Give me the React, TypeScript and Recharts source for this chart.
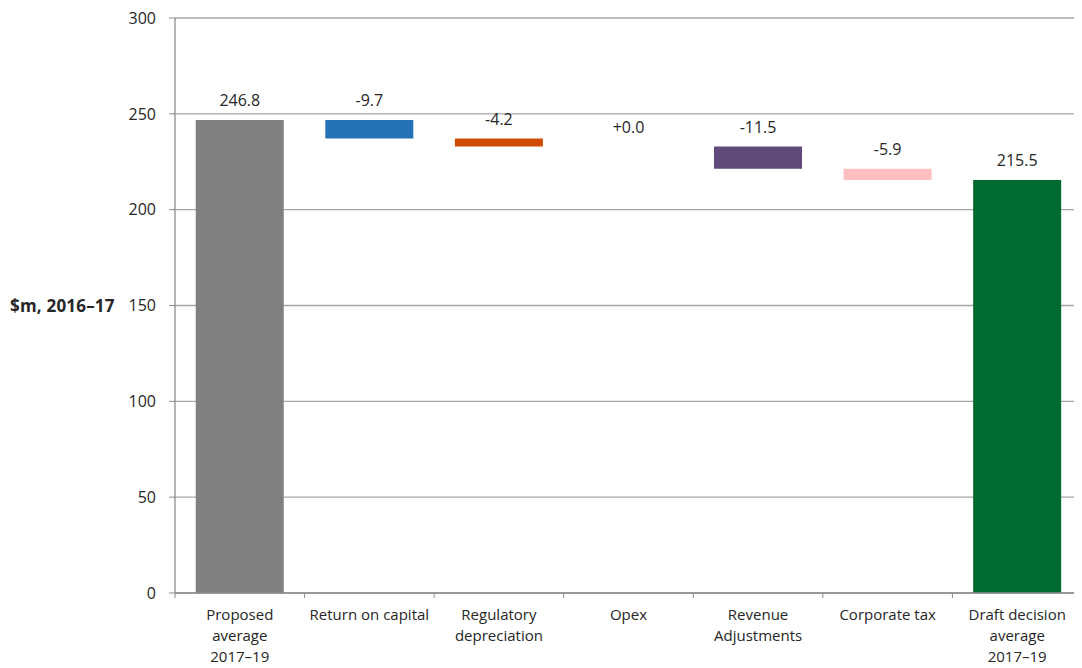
import { ComposedChart, Bar, Line, XAxis, YAxis, CartesianGrid, Cell, LabelList } from 'recharts';

const categories = [
  'Proposed\naverage\n2017–19',
  'Return on capital',
  'Regulatory\ndepreciation',
  'Opex',
  'Revenue\nAdjustments',
  'Corporate tax',
  'Draft decision\naverage\n2017–19',
];
const changes = [246.8, -9.7, -4.2, 0.0, -11.5, -5.9, 215.5];
const isTotal = [true, false, false, false, false, false, true];
const colors = ['#7f7f7f', '#2471b5', '#cf4a03', '#7f7f7f', '#5f4a7b', '#ffbfbf', '#006b2f'];
const yTicks = [0, 50, 100, 150, 200, 250, 300];

const W = 1074;
const H = 660;
const Y_AXIS_W = 167;
const BAND = (W - Y_AXIS_W) / categories.length;
const FONT = '"Open Sans", sans-serif';

function buildRows() {
  let running = 0;
  return categories.map((name, i) => {
    const v = changes[i];
    let base = 0;
    let height = v;
    let label = v.toFixed(1);
    if (isTotal[i]) {
      running = v;
    } else {
      const next = running + v;
      base = Math.min(running, next);
      height = Math.abs(v);
      running = next;
      label = (v < 0 ? '' : '+') + v.toFixed(1);
    }
    return { name, base, height, top: base + height, label };
  });
}

const rows = buildRows();

function CategoryTick(props: any) {
  const { x, y, payload, index } = props;
  const lines = String(payload.value).split('\n');
  const axisY = y - 8;
  return (
    <g>
      <line x1={x - BAND / 2} x2={x - BAND / 2} y1={axisY} y2={axisY + 5} stroke="#8c8c8c" />
      {index === categories.length - 1 && (
        <line x1={x + BAND / 2} x2={x + BAND / 2} y1={axisY} y2={axisY + 5} stroke="#8c8c8c" />
      )}
      <text x={x} y={y + 19} textAnchor="middle" fontSize={15} fontFamily={FONT} fill="#262626">
        {lines.map((l, i) => (
          <tspan key={i} x={x} dy={i === 0 ? 0 : 21}>
            {l}
          </tspan>
        ))}
      </text>
    </g>
  );
}

function YLabel(props: any) {
  const vb = props.viewBox;
  return (
    <text
      x={2}
      y={vb.y + vb.height / 2}
      dy={6}
      fontSize={17}
      fontWeight="bold"
      fontFamily={FONT}
      fill="#262626"
      letterSpacing={0.2}
    >
      $m, 2016–17
    </text>
  );
}

export default function App() {
  return (
    <div style={{ width: W, height: H }}>
      <ComposedChart
        width={W}
        height={H}
        data={rows}
        margin={{ top: 10, right: 0, bottom: 0, left: 0 }}
        barCategoryGap="16%"
      >
        <CartesianGrid vertical={false} stroke="#a6a6a6" strokeWidth={1.3} />
        <XAxis
          dataKey="name"
          interval={0}
          height={75}
          tickLine={false}
          tickSize={6}
          tickMargin={2}
          axisLine={{ stroke: '#8c8c8c', strokeWidth: 1.3 }}
          tick={<CategoryTick />}
        />
        <YAxis
          width={Y_AXIS_W}
          domain={[0, 300]}
          ticks={yTicks}
          interval={0}
          tickSize={6}
          tickMargin={13}
          axisLine={{ stroke: '#8c8c8c', strokeWidth: 1.3 }}
          tickLine={{ stroke: '#8c8c8c' }}
          tick={{ fontSize: 16, fontFamily: FONT, fill: '#262626' }}
          label={<YLabel />}
        />
        <Bar dataKey="base" stackId="w" fill="transparent" isAnimationActive={false} />
        <Bar dataKey="height" stackId="w" isAnimationActive={false}>
          {rows.map((r, i) => (
            <Cell key={r.name} fill={colors[i]} />
          ))}
        </Bar>
        <Line
          dataKey="top"
          stroke="none"
          dot={false}
          activeDot={false}
          legendType="none"
          isAnimationActive={false}
        >
          <LabelList
            dataKey="label"
            position="top"
            offset={14}
            fontSize={16}
            fontFamily={FONT}
            fill="#262626"
          />
        </Line>
      </ComposedChart>
    </div>
  );
}
